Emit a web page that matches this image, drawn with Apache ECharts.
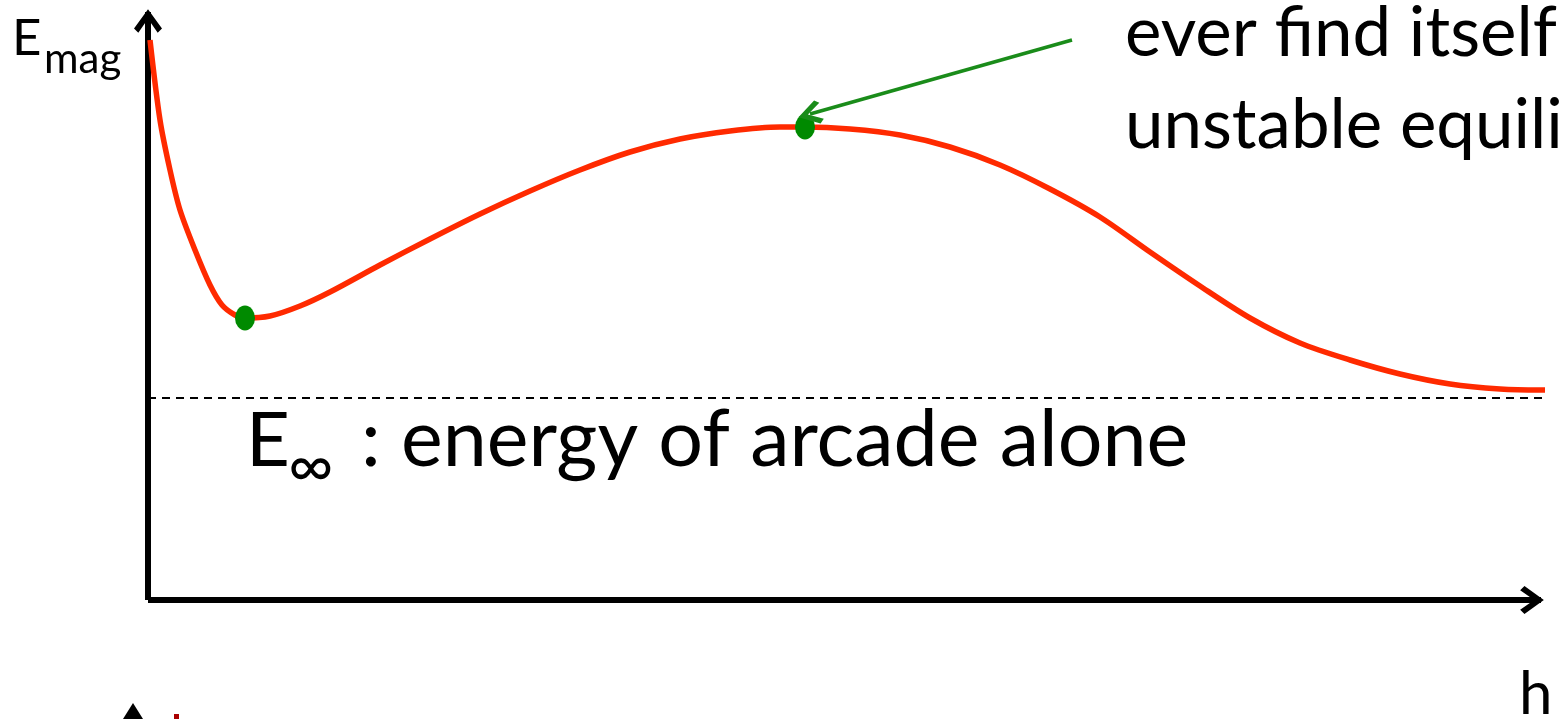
<!DOCTYPE html>
<html>
<head>
<meta charset="utf-8">
<title>Emag vs h</title>
<script src="https://cdn.jsdelivr.net/npm/echarts@6/dist/echarts.min.js"></script>
<style>
  html, body { margin: 0; padding: 0; background: #fff; }
  #chart { width: 1564px; height: 719px; }
</style>
</head>
<body>
<div id="chart"></div>
<script>
// curve (h to the right, E up, arbitrary units)
var hValues = [2, 12, 22, 32, 47, 62, 74, 87, 97, 122, 152, 182, 232, 282, 332, 382, 432, 482, 532, 582, 632, 657,
  702, 752, 802, 852, 902, 952, 1002, 1052, 1102, 1152, 1202, 1252, 1302, 1352, 1392, 1416]
var eValues = [560, 480, 430, 390, 350, 315, 295, 285, 282, 284, 294, 308, 335, 361, 386, 409, 430, 448, 461, 469, 473, 473,
  471, 465, 453, 435, 411, 383, 348, 314, 282, 257, 240, 226, 216, 211, 210, 211]
// stable and unstable equilibria
var equilH = [97, 657]
var equilE = [282, 473]
// energy of the arcade alone
var eInf = 202
var dashH = [0, 1407]
// pointer from the note to the unstable point
var pointerH = [924, 662]
var pointerE = [560, 486]

var xMax = 1393
var yMax = 588

// open arrow head, pointing up
var chevron = 'path://M13,0 L26,18 L22,22 L13,9 L4,22 L0,18 Z'
var font = 'Lato, "Open Sans", sans-serif'

var chart = echarts.init(document.getElementById('chart'))

function txt(text, x, y, size) {
  return {
    type: 'text',
    x: x,
    y: y,
    style: {
      text: text,
      fill: '#000',
      font: size + 'px ' + font,
      align: 'left',
      verticalAlign: 'middle'
    }
  }
}

chart.setOption({
  animation: false,
  grid: { left: 148, right: 23, top: 12, bottom: 119 },
  xAxis: {
    type: 'value',
    min: 0,
    max: xMax,
    axisLine: {
      lineStyle: { color: '#000', width: 6, cap: 'butt' },
      symbol: ['none', chevron],
      symbolSize: [28, 24],
      symbolOffset: [0, -9]
    },
    axisTick: { show: false },
    axisLabel: { show: false },
    splitLine: { show: false }
  },
  yAxis: {
    type: 'value',
    min: 0,
    max: yMax,
    axisLine: {
      lineStyle: { color: '#000', width: 6, cap: 'butt' },
      symbol: ['none', chevron],
      symbolSize: [28, 24],
      symbolOffset: [0, -9]
    },
    axisTick: { show: false },
    axisLabel: { show: false },
    splitLine: { show: false }
  },
  series: [
    {
      name: 'E_inf',
      type: 'line',
      clip: false,
      symbol: 'none',
      data: dashH.map(function(h) { return [h, eInf] }),
      lineStyle: { color: '#000', width: 2, type: [8, 6] },
      z: 2
    },
    {
      name: 'Emag',
      type: 'line',
      clip: false,
      smooth: 0.3,
      symbol: 'none',
      data: hValues.map(function(h, i) { return [h, eValues[i]] }),
      lineStyle: { color: '#ff2a00', width: 5.5 },
      z: 3
    },
    {
      name: 'equilibria',
      type: 'scatter',
      symbol: 'circle',
      symbolSize: [20, 25],
      data: equilH.map(function(h, i) { return [h, equilE[i]] }),
      itemStyle: { color: '#008a00', opacity: 1 },
      z: 5
    },
    {
      name: 'pointer',
      type: 'lines',
      coordinateSystem: 'cartesian2d',
      symbol: ['none', chevron],
      symbolSize: [28, 24],
      data: [{ coords: pointerH.map(function(h, i) { return [h, pointerE[i]] }) }],
      lineStyle: { color: '#1a8c1a', width: 3.5, opacity: 1 },
      z: 6
    }
  ],
  graphic: [
    txt('E', 12, 39, 51),
    txt('mag', 44, 59, 42),
    txt('E', 246, 441, 76),
    txt('\u221E', 288, 467, 62),
    txt(': energy of arcade alone', 361, 441, 79),
    txt('ever find itself', 1125, 34, 69),
    txt('unstable equili', 1125, 126, 69),
    txt('h', 1519, 695, 60),
    // pieces of the next drawing, cut by the frame
    { type: 'polygon', shape: { points: [[133, 703], [123, 719], [143, 719]] }, style: { fill: '#000' } },
    { type: 'rect', shape: { x: 174, y: 714, width: 5, height: 5 }, style: { fill: '#a00' } }
  ]
})
</script>
</body>
</html>
